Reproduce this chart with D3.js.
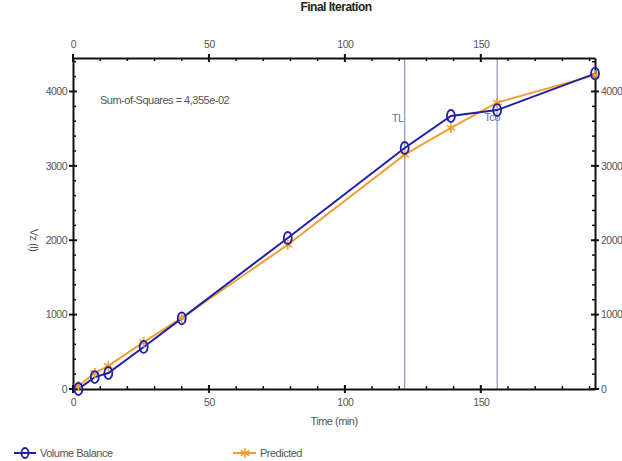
<!DOCTYPE html>
<html lang="en">
<head>
    <meta charset="UTF-8">
    <title>Final Iteration</title>
    <style>
        body { margin: 0; background: #fff; }
        svg text { font-family: "Liberation Sans Narrow", "Liberation Sans", Arial, sans-serif; fill: #555; letter-spacing: -0.5px; }
    </style>
</head>
<body>
<svg></svg>
<script src="https://d3js.org/d3.v7.min.js"></script>
<script>
    var width = 622;
    var height = 461;

    // data
    var time = [2, 8, 13, 26, 40, 79, 122, 139, 156, 192];
    var volumeBalance = [0, 160, 215, 565, 950, 2030, 3240, 3670, 3750, 4240];
    var predicted = [40, 215, 310, 630, 955, 1940, 3150, 3510, 3850, 4220];
    var markerTimes = [122, 156];
    var markerLabels = ["TL", "Tco"];
    var xTicks = [0, 50, 100, 150];
    var yTicks = [0, 1000, 2000, 3000, 4000];

    var plotLeft = 73, plotRight = 595, plotTop = 58, plotBottom = 389;

    var x = d3.scaleLinear().domain([0, 192]).range([plotLeft, plotRight]);
    var y = d3.scaleLinear().domain([0, 4450]).range([plotBottom, plotTop]);

    var svg = d3.select("svg").attr("width", width).attr("height", height);

    var blue = "#2020a8";
    var orange = "#f0a030";

    // vertical marker lines
    markerTimes.forEach(function (t, i) {
        svg.append("line")
            .attr("x1", x(t)).attr("x2", x(t))
            .attr("y1", plotTop).attr("y2", plotBottom)
            .attr("stroke", "#8c94cc").attr("stroke-width", 1.2);
    });
    svg.append("text").attr("x", x(markerTimes[0]) - 1).attr("y", 122)
        .style("text-anchor", "end").style("font-size", "11px").style("fill", "#6470a8").text(markerLabels[0]);
    svg.append("text").attr("x", x(markerTimes[1]) - 5).attr("y", 121)
        .style("text-anchor", "middle").style("font-size", "11px").style("fill", "#6470a8").text(markerLabels[1]);

    // axes
    var axes = [
        {axis: d3.axisTop(x), t: "translate(0," + plotTop + ")", ori: "x", side: 1},
        {axis: d3.axisBottom(x), t: "translate(0," + plotBottom + ")", ori: "x", side: -1},
        {axis: d3.axisLeft(y), t: "translate(" + plotLeft + ",0)", ori: "y", side: 1},
        {axis: d3.axisRight(y), t: "translate(" + plotRight + ",0)", ori: "y", side: -1}
    ];
    axes.forEach(function (a) {
        a.axis.tickValues(a.ori === "x" ? xTicks : yTicks).tickFormat(d3.format("d"))
            .tickSize(0).tickPadding(a.ori === "x" ? 10 : 6);
        var g = svg.append("g").attr("transform", a.t).call(a.axis);
        g.select(".domain").attr("stroke", "#111").attr("stroke-width", 2);
        g.selectAll("text").style("font-size", "10.5px").attr("font-family", null).style("fill", "#555");
        // minor + major ticks
        var minor = a.ori === "x" ? d3.range(0, 193, 10) : d3.range(0, 4450, 200);
        minor.forEach(function (v) {
            var major = a.ori === "x" ? v % 50 === 0 : v % 1000 === 0;
            var len = major ? 4 : 3;
            var p = a.ori === "x" ? x(v) : y(v);
            var to = len * a.side;
            if (a.ori === "x") {
                g.append("line").attr("x1", p).attr("x2", p).attr("y1", major ? -4 * a.side : 0).attr("y2", to)
                    .attr("stroke", "#111").attr("stroke-width", major ? 2 : 1.5);
            } else {
                g.append("line").attr("y1", p).attr("y2", p).attr("x1", major ? -4 * a.side : 0).attr("x2", to)
                    .attr("stroke", "#111").attr("stroke-width", major ? 2 : 1.5);
            }
        });
    });

    // lines
    var line = function (vals) {
        return d3.line().x(function (d, i) { return x(time[i]); }).y(function (d) { return y(d); })(vals);
    };
    svg.append("path").attr("d", line(predicted)).attr("fill", "none").attr("stroke", orange).attr("stroke-width", 2);
    svg.append("path").attr("d", line(volumeBalance)).attr("fill", "none").attr("stroke", blue).attr("stroke-width", 2);

    function drawStar(sel, cx, cy) {
        [0, 60, 120].forEach(function (a) {
            sel.append("line").attr("x1", cx).attr("x2", cx).attr("y1", cy - 5).attr("y2", cy + 5)
                .attr("transform", "rotate(" + a + "," + cx + "," + cy + ")")
                .attr("stroke", orange).attr("stroke-width", 1.6);
        });
    }
    predicted.forEach(function (v, i) { drawStar(svg, x(time[i]), y(v)); });

    svg.selectAll("ellipse.vb").data(volumeBalance).enter().append("ellipse")
        .attr("class", "vb")
        .attr("cx", function (d, i) { return x(time[i]); })
        .attr("cy", function (d) { return y(d); })
        .attr("rx", 4).attr("ry", 6)
        .attr("fill", "none").attr("stroke", blue).attr("stroke-width", 1.8);

    // texts
    svg.append("text").attr("x", 336).attr("y", 11).style("text-anchor", "middle")
        .style("font-size", "12px").style("fill", "#222").style("font-weight", "bold").text("Final Iteration");
    svg.append("text").attr("x", 100).attr("y", 104).style("font-size", "11px").text("Sum-of-Squares = 4,355e-02");
    svg.append("text").attr("x", (plotLeft + plotRight) / 2).attr("y", 425).style("text-anchor", "middle")
        .style("font-size", "11px").text("Time (min)");
    svg.append("text").attr("transform", "translate(30,240) rotate(90)").style("text-anchor", "middle")
        .style("font-size", "11px").text("Vz (l)");

    // legend
    var lg = svg.append("g");
    lg.append("line").attr("x1", 14).attr("x2", 36).attr("y1", 453).attr("y2", 453).attr("stroke", blue).attr("stroke-width", 2);
    lg.append("ellipse").attr("cx", 25).attr("cy", 453).attr("rx", 3.5).attr("ry", 5).attr("fill", "none").attr("stroke", blue).attr("stroke-width", 1.8);
    lg.append("text").attr("x", 40).attr("y", 457).style("font-size", "11px").text("Volume Balance");
    lg.append("line").attr("x1", 233).attr("x2", 256).attr("y1", 453).attr("y2", 453).attr("stroke", orange).attr("stroke-width", 2);
    drawStar(lg, 245, 453);
    lg.append("text").attr("x", 260).attr("y", 457).style("font-size", "11px").text("Predicted");
</script>
</body>
</html>
